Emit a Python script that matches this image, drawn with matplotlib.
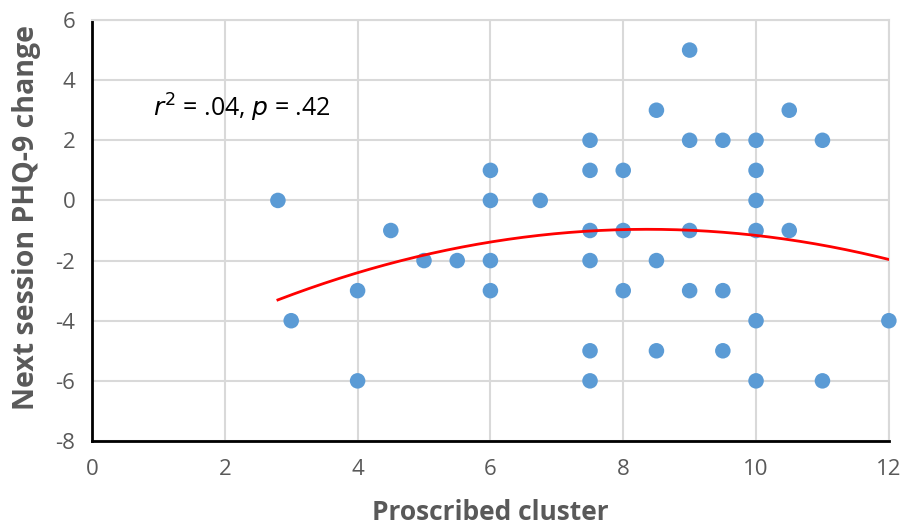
import numpy as np
import matplotlib
matplotlib.use("Agg")
import matplotlib.pyplot as plt

plt.rcParams["axes.unicode_minus"] = False

cluster = [2.8, 3, 4, 4, 4.5, 5, 5.5, 6, 6, 6, 6,
           6.75, 7.5, 7.5, 7.5, 7.5, 7.5, 7.5, 8, 8, 8,
           8.5, 8.5, 8.5, 9, 9, 9, 9, 9.5, 9.5, 9.5,
           10, 10, 10, 10, 10, 10, 10.5, 10.5, 11, 11, 12]
phq_change = [0, -4, -3, -6, -1, -2, -2, 1, 0, -2, -3,
              0, 2, 1, -1, -2, -5, -6, 1, -1, -3,
              3, -2, -5, 5, 2, -1, -3, 2, -3, -5,
              2, 1, 0, -1, -4, -6, 3, -1, 2, -6, -4]
x_ticks = [0, 2, 4, 6, 8, 10, 12]
y_ticks = [-8, -6, -4, -2, 0, 2, 4, 6]

fig = plt.figure(figsize=(9.07, 5.31), dpi=100)
ax = fig.add_axes([0.1014, 0.1695, 0.8786, 0.7928])

ax.set_xlim(0, 12)
ax.set_ylim(-8, 6)
ax.set_xticks(x_ticks)
ax.set_yticks(y_ticks)
ax.grid(True, color="#D9D9D9", linewidth=1.5, zorder=0)
ax.set_axisbelow(True)

for s in ["top", "right"]:
    ax.spines[s].set_color("#D9D9D9")
    ax.spines[s].set_linewidth(1.5)
for s in ["left", "bottom"]:
    ax.spines[s].set_color("black")
    ax.spines[s].set_linewidth(2)

ax.tick_params(length=0, labelsize=16, labelcolor="#595959", pad=12)
ax.tick_params(axis="x", pad=13)
for lab in ax.get_xticklabels() + ax.get_yticklabels():
    lab.set_family("Open Sans")

ax.scatter(cluster, phq_change, s=125, color="#5B9BD5", edgecolors="none",
           zorder=3, clip_on=False)

coef = np.polyfit(cluster, phq_change, 2)
xs = np.linspace(min(cluster), max(cluster), 200)
ax.plot(xs, np.polyval(coef, xs), color="#FF0000", linewidth=2, zorder=4)

ax.text(0.92, 3.07, r"$r^2$ = .04, $p$ = .42", fontsize=18, family="Open Sans",
        va="center", ha="left", color="black")

ax.set_xlabel("Proscribed cluster", fontsize=19, fontweight="bold",
              color="#595959", family="Open Sans", labelpad=14)
ax.set_ylabel("Next session PHQ-9 change", fontsize=20.5, fontweight="bold",
              color="#595959", family="Open Sans")
ax.yaxis.set_label_coords(-0.064, 0.531)

fig.savefig("out.png", dpi=100)
